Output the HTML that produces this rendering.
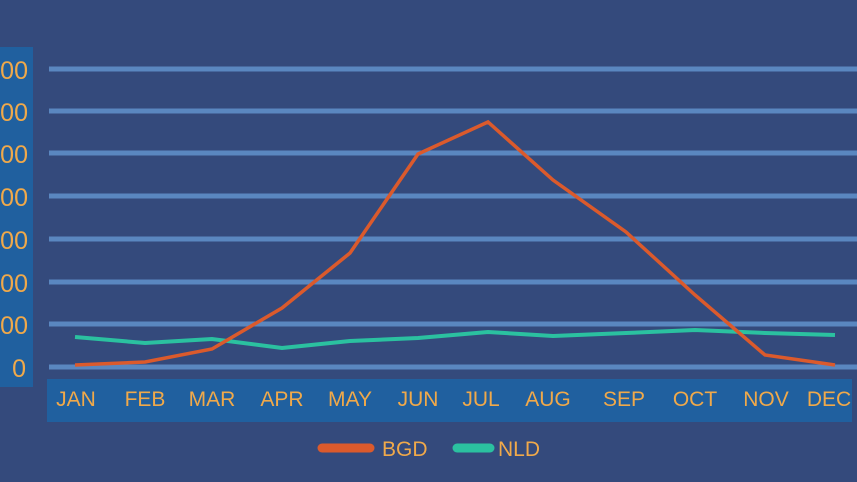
<!DOCTYPE html>
<html><head><style>
body{margin:0;width:857px;height:482px;background:#344a7c;overflow:hidden;position:relative;font-family:"Liberation Sans",sans-serif}
svg{position:absolute;left:0;top:0}
</style></head><body>
<svg width="857" height="482" xmlns="http://www.w3.org/2000/svg">
<rect x="0" y="47" width="33" height="340" fill="#20609f"/>
<rect x="47" y="379" width="805" height="43" fill="#20609f"/>
<g stroke="#5a87c0" stroke-width="5">
<line x1="49" y1="69" x2="857" y2="69"/><line x1="49" y1="111" x2="857" y2="111"/>
<line x1="49" y1="153" x2="857" y2="153"/><line x1="49" y1="196" x2="857" y2="196"/>
<line x1="49" y1="239" x2="857" y2="239"/><line x1="49" y1="282" x2="857" y2="282"/>
<line x1="49" y1="324" x2="857" y2="324"/><line x1="49" y1="367" x2="857" y2="367"/>
</g>
<g fill="#f0a94a" font-size="25" text-anchor="end">
<text x="28" y="79">000</text><text x="28" y="121">000</text><text x="28" y="163">000</text>
<text x="28" y="206">000</text><text x="28" y="249">000</text><text x="28" y="292">000</text>
<text x="28" y="334">000</text><text x="26" y="377">0</text>
</g>
<g fill="#f0a94a" font-size="21" text-anchor="middle">
<text x="76" y="406">JAN</text><text x="145" y="406">FEB</text><text x="212" y="406">MAR</text>
<text x="282" y="406">APR</text><text x="350" y="406">MAY</text><text x="418" y="406">JUN</text>
<text x="481" y="406">JUL</text><text x="548" y="406">AUG</text><text x="624" y="406">SEP</text>
<text x="695" y="406">OCT</text><text x="766" y="406">NOV</text><text x="829" y="406">DEC</text>
</g>
<polyline fill="none" stroke="#2bc1a0" stroke-width="4" points="75,337 145,343 212,339 282,348 350,341 418,338 488,332 553,336 626,333 695,330 765,333 835,335"/>
<polyline fill="none" stroke="#db5a2c" stroke-width="3.5" points="75,365 145,362 212,349 282,308 350,253 418,154 488,122 553,180 626,232 695,295 765,355 835,365"/>
<line x1="322" y1="448" x2="370" y2="448" stroke="#db5a2c" stroke-width="9" stroke-linecap="round"/>
<text x="382" y="456" fill="#f0a94a" font-size="21">BGD</text>
<line x1="457" y1="448" x2="490" y2="448" stroke="#2bc1a0" stroke-width="9" stroke-linecap="round"/>
<text x="498" y="456" fill="#f0a94a" font-size="21">NLD</text>
</svg>
</body></html>
